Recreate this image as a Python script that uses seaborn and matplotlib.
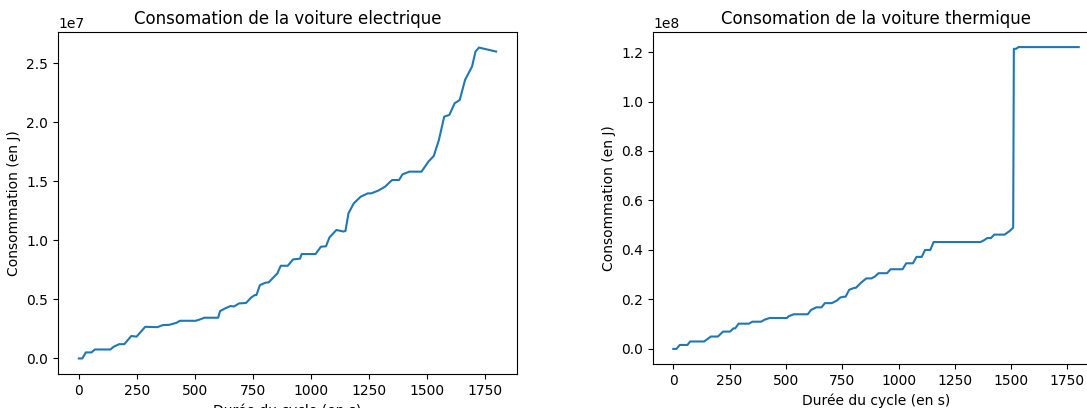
import matplotlib
matplotlib.use("Agg")
import matplotlib.pyplot as plt
import seaborn as sns
import pandas as pd

# Electric car cumulative consumption (time in s, energy in 1e7 J)
elec_t = [0, 15, 30, 54, 69, 136, 150, 174, 196, 226,
          249, 271, 286, 339, 361, 391, 421, 436, 504, 526,
          541, 601, 609, 631, 654, 669, 691, 721, 744, 759,
          766, 781, 804, 819, 856, 871, 901, 924, 954, 961,
          1021, 1044, 1066, 1081, 1111, 1141, 1150, 1163, 1186, 1216,
          1246, 1261, 1291, 1321, 1351, 1381, 1396, 1426, 1478, 1508,
          1531, 1553, 1576, 1598, 1621, 1643, 1666, 1696, 1711, 1726,
          1756, 1800]
elec_v = [0.0, 0.0, 0.051, 0.051, 0.076, 0.076, 0.099, 0.121, 0.121, 0.190,
          0.185, 0.234, 0.268, 0.265, 0.282, 0.285, 0.302, 0.319, 0.319, 0.333,
          0.345, 0.345, 0.401, 0.424, 0.444, 0.440, 0.466, 0.470, 0.517, 0.537,
          0.537, 0.621, 0.641, 0.645, 0.720, 0.785, 0.785, 0.839, 0.845, 0.884,
          0.884, 0.946, 0.950, 1.025, 1.088, 1.075, 1.080, 1.229, 1.314, 1.370,
          1.398, 1.398, 1.421, 1.455, 1.511, 1.511, 1.559, 1.582, 1.582, 1.667,
          1.715, 1.850, 2.048, 2.062, 2.161, 2.189, 2.359, 2.472, 2.599, 2.633,
          2.619, 2.599]

# Thermal car cumulative consumption (time in s, energy in 1e8 J)
therm_t = [0, 14, 29, 63, 75, 137, 152, 167, 198, 221,
           252, 267, 275, 290, 336, 351, 390, 405, 428, 505,
           512, 535, 597, 612, 635, 658, 673, 704, 727, 742,
           758, 765, 781, 804, 811, 834, 857, 880, 896, 911,
           949, 965, 1018, 1034, 1064, 1080, 1103, 1118, 1141, 1156,
           1364, 1379, 1394, 1410, 1425, 1471, 1494, 1509, 1512, 1522,
           1532, 1800]
therm_v = [0.0, 0.0, 0.016, 0.016, 0.030, 0.030, 0.040, 0.050, 0.050, 0.070,
           0.070, 0.083, 0.083, 0.102, 0.102, 0.110, 0.110, 0.118, 0.125, 0.125,
           0.132, 0.140, 0.140, 0.158, 0.168, 0.168, 0.185, 0.185, 0.196, 0.208,
           0.211, 0.211, 0.239, 0.247, 0.247, 0.268, 0.285, 0.285, 0.293, 0.306,
           0.306, 0.322, 0.322, 0.346, 0.346, 0.372, 0.372, 0.400, 0.400, 0.432,
           0.432, 0.439, 0.448, 0.448, 0.462, 0.462, 0.477, 0.490, 1.213, 1.213,
           1.220, 1.220]

titles = ["Consomation de la voiture electrique", "Consomation de la voiture thermique"]
xlabel = "Durée du cycle (en s)"
ylabel = "Consommation (en J)"

df_e = pd.DataFrame({"t": elec_t, "E": [v * 1e7 for v in elec_v]})
df_th = pd.DataFrame({"t": therm_t, "E": [v * 1e8 for v in therm_v]})

W, H = 1087, 408
fig = plt.figure(figsize=(W / 100, H / 100), dpi=100)
ax1 = fig.add_axes([58 / W, 1 - 374 / H, 459 / W, 342 / H])
ax2 = fig.add_axes([653 / W, 1 - 364 / H, 446 / W, 332 / H])

for ax, df, title in [(ax1, df_e, titles[0]), (ax2, df_th, titles[1])]:
    sns.lineplot(data=df, x="t", y="E", ax=ax, color="#1f77b4", linewidth=1.5)
    ax.set_title(title, fontsize=12)
    ax.set_xlabel(xlabel, fontsize=10)
    ax.set_ylabel(ylabel, fontsize=10)
    ax.set_xticks([0, 250, 500, 750, 1000, 1250, 1500, 1750])

fig.savefig("out.png", dpi=100)
